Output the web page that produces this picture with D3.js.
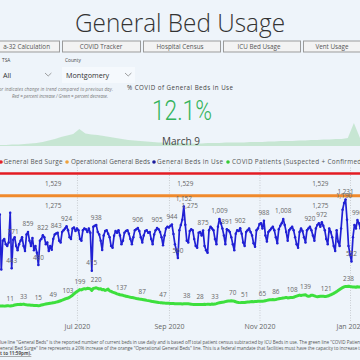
<!DOCTYPE html>
<html><head><meta charset="utf-8">
<script src="https://cdn.jsdelivr.net/npm/d3@7"></script>
<style>html,body{margin:0;padding:0;background:#eef4fa;} svg{display:block;}</style>
</head><body><svg id="c" width="360" height="360"></svg>
<script>
// ---------- data ----------
const startDate = "2020-05-10";
const blueVals = [
 1060,430,760,780,720,700,740,
 1080,443,771,800,700,650,720,
 760,800,700,640,830,859,760,
 700,791,650,700,620,480,760,
 780,822,800,720,740,640,700,
 656,780,830,843,850,760,740,
 860,880,900,924,880,800,780,
 900,910,870,900,880,780,760,
 880,900,890,860,900,850,415,
 920,930,938,860,830,760,652,
 820,870,880,840,800,700,680,
 815,870,850,880,820,720,760,
 850,870,880,840,780,720,800,
 880,890,906,870,800,740,820,
 870,880,850,860,780,720,830,
 880,905,890,860,800,707,820,
 900,920,910,930,944,837,720,
 650,560,880,940,1000,1152,942,
 760,740,870,890,880,780,700,
 680,850,860,820,875,700,650,
 620,880,920,900,880,780,720,
 920,1009,960,900,820,720,891,
 880,860,800,720,650,840,880,
 870,902,840,740,700,860,880,
 900,860,820,730,690,880,900,
 950,960,900,988,820,750,860,
 880,900,920,880,800,730,890,
 930,960,1008,940,860,760,880,
 900,920,880,800,720,680,860,
 900,870,800,740,880,900,920,
 880,820,760,900,940,960,920,
 972,930,880,780,720,900,860,
 800,700,640,880,750,700,900,
 1114,1190,1231,1000,700,600,522,
 800,940,900,996,960,900];
const greenVals = [
 12,11,13,10,12,14,13,
 11,15,18,22,25,28,30,
 31,30,33,29,26,24,22,
 20,19,18,17,16,15,18,
 22,26,30,34,38,41,44,
 46,49,52,56,60,66,72,
 78,85,92,98,103,110,122,
 135,150,165,178,188,199,196,
 204,210,206,214,212,208,190,
 212,216,220,214,205,210,198,
 200,190,196,205,185,178,170,
 165,158,150,146,140,137,134,
 128,124,120,116,112,110,106,
 102,98,95,92,90,87,84,
 80,76,73,70,66,62,60,
 58,55,52,50,49,47,45,
 44,42,42,40,39,40,38,
 37,36,38,36,34,36,37,
 38,36,34,32,30,30,29,
 28,29,28,30,29,31,30,
 32,31,30,34,32,33,38,
 44,48,52,55,58,62,66,
 68,70,72,70,66,60,55,
 52,50,52,51,51,54,56,
 58,60,62,61,63,64,66,
 65,65,65,68,72,76,80,
 82,84,85,84,86,90,94,
 98,100,104,106,110,104,106,
 108,108,112,118,124,130,136,
 132,136,138,139,128,122,126,
 136,134,128,122,118,120,122,
 124,122,120,121,126,132,140,
 148,156,166,176,188,200,212,
 222,230,236,236,238,234,232,
 228,230,226,232,228,230];
const blueLabelIdx = [8,9,19,26,29,38,45,62,65,93,106,116,120,124,137,148,153,162,178,191,209,217,232,233,237,241];
const greenLabelIdx = [7,16,26,36,46,54,65,82,96,110,126,135,145,157,165,177,186,197,206,220,235];
const surgeDays = [0,36,125,216,245];
const surgeVals = [1529,1529,1529,1529,1529];
const surgeLabelIdx = [1,2,3];
const opDays = [0,36,128,216,245];
const opVals = [1275,1275,1275,1275,1275];
const opLabelIdx = [1,2,3];
const xTicks = ["2020-07-01","2020-09-01","2020-11-01","2021-01-01"];
const yTicks = [400,800,1200];
const tabNames = ["a-32 Calculation","COVID Tracker","Hospital Census","ICU Bed Usage","Vent Usage"];
const legendNames = ["General Bed Surge","Operational General Beds","General Beds in Use","COVID Patients (Suspected + Confirmed)"];
const sparkVals = [1,1,1.5,1.5,2,2.5,3,4,5.5,7,9,10.5,12,17,12.5,11.5,11,10,9,8,7,6,5.5,5,4.5,4,3.5,3.5,3,3,3,2.5,2.5,2.5,3,3,3,3.5,3.5,3.5,3.5,4,4,4,4.5,4.5,5,5,5,5.5,5.5,6,6,6.5,6.5,7,7,8,23,8];
const kpiValue = "12.1%";
const kpiDate = "March 9";

// ---------- setup ----------
const FONT = "'Open Sans', 'Noto Sans', sans-serif";
const svg = d3.select("#c").style("font-family", FONT);
svg.append("rect").attr("width",360).attr("height",360).attr("fill","#eef4fa");

// title
svg.append("text").attr("x",180).attr("y",32).attr("text-anchor","middle")
  .attr("font-size",26).attr("font-weight",300).attr("fill","#333")
  .attr("textLength",210).attr("lengthAdjust","spacingAndGlyphs").text("General Bed Usage");

// tabs
const tabX = [-40,62,143,223,303];
const tabW = [99,78,77,77,78];
const tabTextX = [50,101,180,259,332];
const tabs = svg.append("g");
tabNames.forEach((t,i)=>{
  tabs.append("rect").attr("x",tabX[i]+0.5).attr("y",41).attr("width",tabW[i]).attr("height",11)
    .attr("fill","#f3f3f3").attr("stroke","#9b9b9b").attr("stroke-width",1);
  tabs.append("text").attr("x",tabTextX[i]).attr("y",49).attr("font-size",6.3).attr("fill","#555")
    .attr("text-anchor", i===0 ? "end" : "middle").text(t);
});

// slicers
svg.append("text").attr("x",2).attr("y",62).attr("font-size",4.8).attr("fill","#444").text("TSA");
svg.append("text").attr("x",65).attr("y",62).attr("font-size",4.8).attr("fill","#444").text("County");
svg.append("rect").attr("x",62).attr("y",67).attr("width",73).attr("height",16).attr("fill","#f5f9fd");
svg.append("text").attr("x",3).attr("y",78).attr("font-size",7.2).attr("fill","#333").text("All");
svg.append("text").attr("x",66).attr("y",78).attr("font-size",7.2).attr("fill","#333").text("Montgomery");
[[45,73],[125,73]].forEach(p=>{
  svg.append("path").attr("d",`M${p[0]},${p[1]} L${p[0]+3.2},${p[1]+3} L${p[0]+6.4},${p[1]}`)
    .attr("fill","none").attr("stroke","#888").attr("stroke-width",0.8);
});

// notes
svg.append("text").attr("x",-1).attr("y",90.5).attr("font-size",4.4).attr("font-style","italic")
  .attr("fill","#777").attr("textLength",114).text("or indicates change in trend compared to previous day.");
svg.append("text").attr("x",12).attr("y",97.5).attr("font-size",4.4).attr("font-style","italic")
  .attr("fill","#777").attr("textLength",96).text("Red = percent increase / Green = percent decrease.");

// KPI
svg.append("text").attr("x",127).attr("y",90.3).attr("font-size",6.2).attr("fill","#444")
  .attr("textLength",106).text("% COVID of General Beds in Use");
svg.append("text").attr("x",152).attr("y",120).attr("font-size",27).attr("fill","#34b35a")
  .attr("font-family","Roboto, sans-serif").attr("font-weight",300)
  .attr("textLength",60).attr("lengthAdjust","spacingAndGlyphs").text(kpiValue);

// sparkline
const sx = d3.scaleLinear().domain([0, sparkVals.length-1]).range([0,360]);
const sy = d3.scaleLinear().domain([0,25]).range([146,121]);
svg.append("path").datum(sparkVals)
  .attr("d", d3.area().x((d,i)=>sx(i)).y0(146).y1(d=>sy(d)))
  .attr("fill","#b9e2c6").attr("opacity",0.75);
svg.append("text").attr("x",181).attr("y",144.5).attr("text-anchor","middle").attr("font-size",10)
  .attr("fill","#444").text(kpiDate);

// legend
const legColors = ["#e3222a","#eea23c","#1c1c9c","#35cc35"];
const legDotX = [1,67,154,228];
const legTextX = [3.5,71,157,232];
const legLen = [59,79,66,131.5];
legendNames.forEach((n,i)=>{
  svg.append("circle").attr("cx",legDotX[i]).attr("cy",162).attr("r",1.8).attr("fill",legColors[i]);
  svg.append("text").attr("x",legTextX[i]).attr("y",164.3).attr("font-size",6.4).attr("fill","#555")
    .attr("textLength",legLen[i]).text(n);
});

// ---------- chart ----------
const parse = d3.timeParse("%Y-%m-%d");
const d0 = parse(startDate);
const dayDate = i => d3.timeDay.offset(d0, i);
const x = d3.scaleTime().domain([d0, parse("2021-01-01")]).range([-0.2, 350]);
const y = d3.scaleLinear().domain([0,1600]).range([307, 167.3]);

const g = svg.append("g");
// grid
const gx = g.append("g").attr("transform","translate(0,321)")
  .call(d3.axisBottom(x).tickValues(xTicks.map(parse)).tickSize(-155).tickFormat(""));
gx.select(".domain").remove();
gx.selectAll("line").attr("stroke","#c9cdd2").attr("stroke-dasharray","1,1.5");
const gy = g.append("g")
  .call(d3.axisLeft(y).tickValues(yTicks).tickSize(-400).tickFormat(""));
gy.attr("transform","translate(400,0)");
gy.select(".domain").remove();
gy.selectAll("line").attr("stroke","#c9cdd2").attr("stroke-dasharray","1,1.5");

// x axis labels
const xa = g.append("g").attr("transform","translate(0,322)")
  .call(d3.axisBottom(x).tickValues(xTicks.map(parse)).tickSize(0).tickFormat(d3.timeFormat("%b %Y")));
xa.select(".domain").remove();
xa.selectAll("text").attr("font-size",7).attr("fill","#666").attr("font-family",FONT).attr("dy","0.55em");

// constant lines
g.append("path").datum(surgeDays.map((d,i)=>[d,surgeVals[i]]))
  .attr("d", d3.line().x(d=>x(dayDate(d[0]))).y(d=>y(d[1])))
  .attr("fill","none").attr("stroke","#e31c23").attr("stroke-width",2.6);
g.append("path").datum(opDays.map((d,i)=>[d,opVals[i]]))
  .attr("d", d3.line().x(d=>x(dayDate(d[0]))).y(d=>y(d[1])))
  .attr("fill","none").attr("stroke","#f08a2c").attr("stroke-width",3);

// green
const greenPts = greenVals.map((v,i)=>[i,v]);
g.append("path").datum(greenPts)
  .attr("d", d3.line().x(d=>x(dayDate(d[0]))).y(d=>y(d[1])))
  .attr("fill","none").attr("stroke","#3ddf3d").attr("stroke-width",3).attr("stroke-linejoin","round");

// blue
const bluePts = blueVals.map((v,i)=>[i,v]);
g.append("path").datum(bluePts)
  .attr("d", d3.line().x(d=>x(dayDate(d[0]))).y(d=>y(d[1])))
  .attr("fill","none").attr("stroke","#2020d4").attr("stroke-width",1.7).attr("stroke-linejoin","round");
g.selectAll("circle.b").data(bluePts).join("circle").attr("class","b")
  .attr("cx",d=>x(dayDate(d[0]))).attr("cy",d=>y(d[1])).attr("r",1.25).attr("fill","#2020d4");

// labels
const fmt = d3.format(",");
const lab = (xx,yy,t)=> g.append("text").attr("x",xx).attr("y",yy).attr("text-anchor","middle")
  .attr("font-size",6.4).attr("fill","#666").text(t);
surgeLabelIdx.forEach(i=> lab(x(dayDate(surgeDays[i])), y(surgeVals[i])+12.5, fmt(surgeVals[i])));
opLabelIdx.forEach(i=> lab(x(dayDate(opDays[i])), y(opVals[i])+12.5, fmt(opVals[i])));
blueLabelIdx.forEach(i=> lab(x(dayDate(i)), y(blueVals[i])-5.5, fmt(blueVals[i])));
greenLabelIdx.forEach(i=> lab(x(dayDate(i)), y(greenVals[i])-5.5, fmt(greenVals[i])));

// footnote
svg.append("text").attr("x",0).attr("y",343.5).attr("font-size",4.6).attr("fill","#555").attr("textLength",360)
  .text('lue line "General Beds" is the reported number of current beds in use daily and is based off total patient census subtracted by ICU Beds in use. The green line "COVID Patien');
svg.append("text").attr("x",0).attr("y",349.5).attr("font-size",4.6).attr("fill","#555").attr("textLength",360)
  .text('eneral Bed Surge" line represents a 20% increase of the orange "Operational General Beds" line. This is a federal mandate that facilities must have the capacity to increase t');
svg.append("text").attr("x",0).attr("y",355).attr("font-size",4.6).attr("fill","#555").attr("font-weight","bold")
  .attr("text-decoration","underline").text("t to 11:59pm).");
</script></body></html>
